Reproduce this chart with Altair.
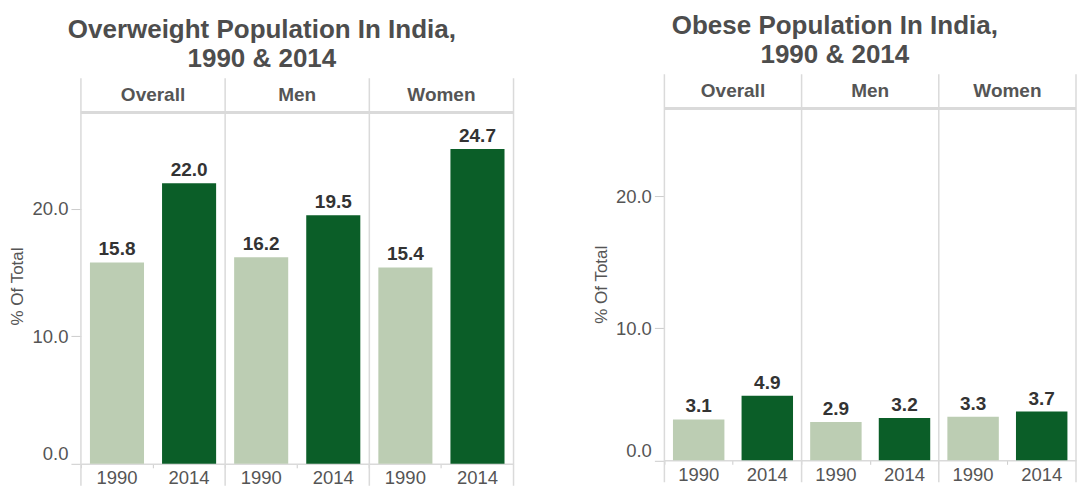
import altair as alt
import pandas as pd

# ---- data ----
groups = ["Overall", "Men", "Women"]
years = ["1990", "2014"]
overweight_1990 = [15.8, 16.2, 15.4]
overweight_2014 = [22.0, 19.5, 24.7]
obese_1990 = [3.1, 2.9, 3.3]
obese_2014 = [4.9, 3.2, 3.7]

title_overweight = ["Overweight Population In India,", "1990 & 2014"]
title_obese = ["Obese Population In India,", "1990 & 2014"]
y_title = "% Of Total"
y_ticks = [0, 10, 20]

# ---- style ----
FONT = "Liberation Sans"
LIGHT = "#bccdb3"
DARK = "#0b5e28"
LINE = "#dadada"
TEXT = "#555555"

keys = [f"{g}|{y}" for g in groups for y in years]


def make_df(v1990, v2014):
    rows = []
    for g, a, b in zip(groups, v1990, v2014):
        rows.append({"group": g, "year": "1990", "key": f"{g}|1990", "value": a})
        rows.append({"group": g, "year": "2014", "key": f"{g}|2014", "value": b})
    return pd.DataFrame(rows)


def panel(v1990, v2014, title, ymax, W, H, head, shift):
    df = make_df(v1990, v2014)
    xscale = alt.Scale(domain=keys, paddingInner=0, paddingOuter=0)
    yscale = alt.Scale(domain=[0, ymax], nice=False, zero=True)
    x_axis = alt.Axis(
        title=None, labelExpr="split(datum.value, '|')[1]", labelAngle=0,
        labelFontSize=18.5, labelColor=TEXT, labelFont=FONT,
        domainColor=LINE, domainWidth=1.5, tickColor="#cccccc", tickSize=4,
        labelPadding=1, bandPosition=0,
    )
    y_axis = alt.Axis(
        title=y_title, values=y_ticks, format=".1f", grid=False, domain=False,
        labelFontSize=18.5, labelColor=TEXT, labelFont=FONT,
        tickColor="#cccccc", tickSize=10, labelPadding=3, labelFlush=True,
        titleFont=FONT, titleFontSize=17, titleFontWeight="normal",
        titleColor=TEXT, titlePadding=5,
    )
    base = alt.Chart(df)
    bars = base.mark_bar(width=alt.RelativeBandSize(0.75)).encode(
        x=alt.X("key:N", scale=xscale, axis=x_axis),
        y=alt.Y("value:Q", scale=yscale, axis=y_axis),
        color=alt.Color("year:N", scale=alt.Scale(domain=years, range=[LIGHT, DARK]), legend=None),
    )
    labels = base.mark_text(
        font=FONT, fontSize=19, fontWeight="bold", color="#333333",
        baseline="alphabetic", dy=-7,
    ).encode(
        x=alt.X("key:N"),
        y=alt.Y("value:Q"),
        text=alt.Text("value:Q", format=".1f"),
    )
    first = base.transform_filter("datum.year == '1990'")
    header_text = first.mark_text(
        font=FONT, fontSize=19, fontWeight="bold", color=TEXT, baseline="middle",
    ).encode(
        x=alt.X("key:N", bandPosition=1),
        y=alt.value(shift - head / 2),
        text="group:N",
    )
    header_line = base.mark_rule(color=LINE, strokeWidth=2.5).encode(
        x=alt.value(0), x2=alt.value(W), y=alt.value(shift)
    )
    dividers = first.mark_rule(color=LINE, strokeWidth=1.5).encode(
        x=alt.X("key:N", bandPosition=0), y=alt.value(shift - head), y2=alt.value(H + 22)
    )
    last_div = base.transform_filter(f"datum.key == '{keys[-1]}'").mark_rule(
        color=LINE, strokeWidth=1.5
    ).encode(
        x=alt.X("key:N", bandPosition=1), y=alt.value(shift - head), y2=alt.value(H + 22)
    )
    return alt.layer(bars, labels, header_text, header_line, dividers, last_div).properties(
        width=W, height=H,
        title=alt.TitleParams(
            text=title, fontSize=26, font=FONT, fontWeight="bold", color="#4d4d4d",
            anchor="middle", frame="bounds", offset=5, lineHeight=29.5,
        ),
    )


left = panel(overweight_1990, overweight_2014, title_overweight, 27.9, 433, 356, 34, 4)
right = panel(obese_1990, obese_2014, title_obese, 26.7, 412, 352.5, 34, 0)

chart = alt.hconcat(left, right, spacing=76).configure_view(stroke=None).properties(
    padding={"left": 0, "top": 4, "right": 0, "bottom": 0}
)

chart.save("out.html", embed_options={"renderer": "svg", "actions": False})
